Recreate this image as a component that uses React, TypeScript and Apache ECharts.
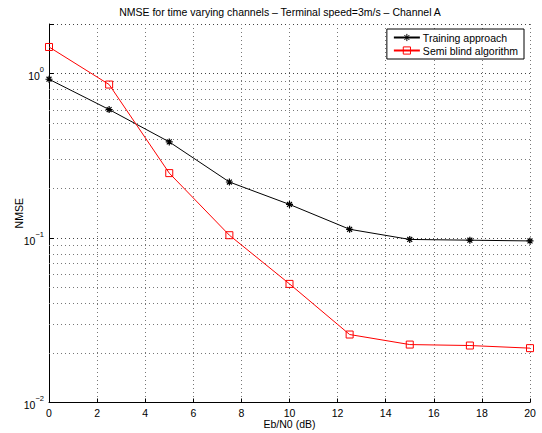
import React, { useEffect, useRef } from "react";
import * as echarts from "echarts";

const xValues = [0, 2.5, 5, 7.5, 10, 12.5, 15, 17.5, 20];
const trainingValues = [0.923, 0.604, 0.384, 0.219, 0.16, 0.113, 0.098, 0.097, 0.096];
const semiBlindValues = [1.45, 0.857, 0.248, 0.104, 0.0526, 0.0259, 0.0225, 0.0222, 0.0214];
const minorGridValues = [
  0.02, 0.03, 0.04, 0.05, 0.06, 0.07, 0.08, 0.09,
  0.2, 0.3, 0.4, 0.5, 0.6, 0.7, 0.8, 0.9,
];
const titleText = "NMSE for time varying channels – Terminal speed=3m/s – Channel A";
const seriesNames = ["Training approach", "Semi blind algorithm"];

const FONT = "'Liberation Sans', Arial, Helvetica, sans-serif";
const asterisk =
  "path://M0 -5 L0 5 M-5 0 L5 0 M-3.5 -3.5 L3.5 3.5 M-3.5 3.5 L3.5 -3.5";

export default function App() {
  const ref = useRef<HTMLDivElement>(null);
  useEffect(() => {
    if (!ref.current) return;
    const chart = echarts.init(ref.current, undefined, { renderer: "svg" });
    const dotted = { type: [1, 3] as number[], color: "#777", width: 1 };
    chart.setOption({
      animation: false,
      backgroundColor: "#fff",
      textStyle: { fontFamily: FONT, color: "#000" },
      title: {
        text: titleText,
        left: 280,
        textAlign: "center",
        top: 6,
        padding: 0,
        textStyle: { fontSize: 10.5, fontWeight: "normal", color: "#000", fontFamily: FONT },
      },
      legend: {
        orient: "vertical",
        right: 18,
        top: 29,
        padding: [3, 6, 3, 6],
        itemGap: 2,
        itemWidth: 26,
        itemHeight: 9,
        borderColor: "#000",
        borderWidth: 1,
        backgroundColor: "#fff",
        itemStyle: { borderWidth: 1 },
        textStyle: { fontSize: 10.5, color: "#000", fontFamily: FONT, padding: [0, 0, 0, -2] },
        data: seriesNames,
      },
      grid: {
        left: 49,
        right: 12,
        top: 24,
        bottom: 30.5,
        containLabel: false,
        outerBoundsMode: "none",
      },
      xAxis: {
        type: "value",
        min: 0,
        max: 20,
        interval: 2,
        name: "Eb/N0 (dB)",
        nameLocation: "middle",
        nameGap: 16,
        nameMoveOverlap: false,
        nameTextStyle: { fontSize: 10.5, color: "#000", fontFamily: FONT },
        axisLine: { show: true, lineStyle: { color: "#000", width: 1 } },
        axisTick: { show: true, inside: true, length: 4, lineStyle: { color: "#000" } },
        axisLabel: { fontSize: 10.5, color: "#000", margin: 5, fontFamily: FONT },
        splitLine: { show: true, lineStyle: dotted },
      },
      yAxis: {
        type: "log",
        logBase: 10,
        min: 0.01,
        max: 2,
        name: "NMSE",
        nameLocation: "middle",
        nameGap: 25,
        nameMoveOverlap: false,
        nameRotate: 90,
        nameTextStyle: { fontSize: 10.5, color: "#000", fontFamily: FONT },
        axisLine: { show: true, lineStyle: { color: "#000", width: 1 } },
        axisTick: { show: true, inside: true, length: 5, lineStyle: { color: "#000" } },
        axisLabel: {
          margin: 5,
          formatter: (v: number) => {
            const l = Math.log10(v);
            const e = Math.round(l);
            if (Math.abs(l - e) > 1e-6) return "";
            const s = e < 0 ? "\u2212" + Math.abs(e) : String(e);
            return `{b|10}{s|${s}}`;
          },
          rich: {
            b: { fontSize: 10.5, color: "#000", fontFamily: FONT, verticalAlign: "bottom", lineHeight: 16 },
            s: { fontSize: 7.5, color: "#000", fontFamily: FONT, verticalAlign: "top", lineHeight: 16 },
          },
        },
        splitLine: { show: true, lineStyle: { type: [1, 3], color: "#444", width: 1 } },
      },
      series: [
        {
          name: seriesNames[0],
          type: "line",
          data: xValues.map((x, i) => [x, trainingValues[i]]),
          symbol: asterisk,
          symbolSize: 7,
          lineStyle: { color: "#000", width: 1 },
          itemStyle: { color: "#000", borderColor: "#000", borderWidth: 1.2 },
          z: 4,
          markLine: {
            silent: true,
            symbol: "none",
            label: { show: false },
            lineStyle: dotted,
            data: minorGridValues.map((v) => ({ yAxis: v })),
            z: 1,
          },
        },
        {
          name: seriesNames[1],
          type: "line",
          data: xValues.map((x, i) => [x, semiBlindValues[i]]),
          symbol: "rect",
          symbolSize: 7,
          lineStyle: { color: "#ff0000", width: 1 },
          itemStyle: { color: "rgba(255,255,255,0)", borderColor: "#ff0000", borderWidth: 1 },
          z: 4,
        },
      ],
    });
    return () => chart.dispose();
  }, []);
  return (
    <div
      ref={ref}
      style={{ position: "fixed", left: 0, top: 0, width: 542, height: 433 }}
    />
  );
}
